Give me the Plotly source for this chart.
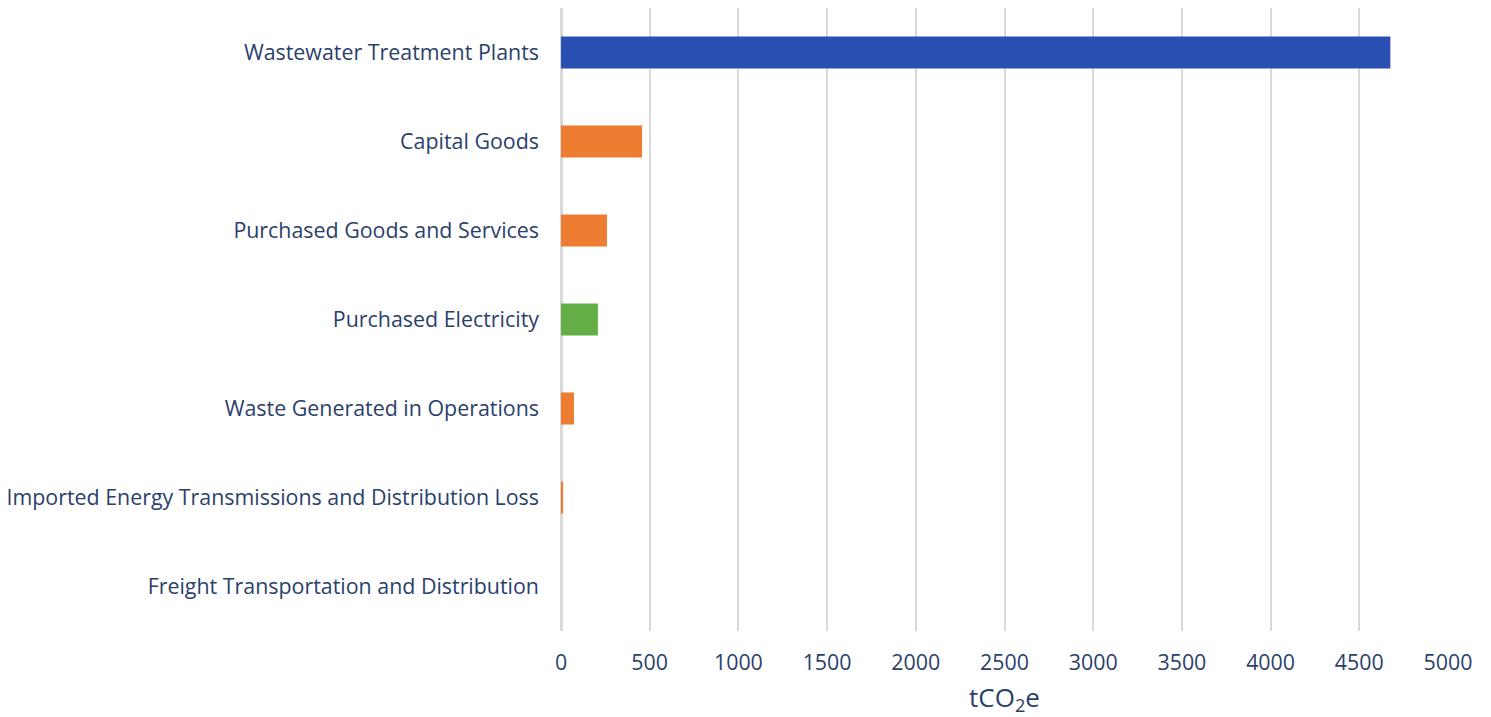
import plotly.graph_objects as go

categories = [
    "Wastewater Treatment Plants",
    "Capital Goods",
    "Purchased Goods and Services",
    "Purchased Electricity",
    "Waste Generated in Operations",
    "Imported Energy Transmissions and Distribution Loss",
    "Freight Transportation and Distribution",
]
values = [4675, 457, 259, 208, 73, 12, 0]
colors = ["#2A4FB3", "#ED7D31", "#ED7D31", "#63AE45", "#ED7D31", "#ED7D31", "#ED7D31"]
tick_vals = [0, 500, 1000, 1500, 2000, 2500, 3000, 3500, 4000, 4500, 5000]

text_color = "#2B3F6B"

fig = go.Figure(
    go.Bar(
        x=values,
        y=categories,
        orientation="h",
        marker=dict(color=colors, line=dict(width=0)),
        width=0.36,
    )
)

fig.update_layout(
    width=1491,
    height=717,
    margin=dict(l=561, r=43, t=8, b=86),
    paper_bgcolor="white",
    plot_bgcolor="white",
    font=dict(family="Open Sans", color=text_color, size=21.4),
    showlegend=False,
    xaxis=dict(
        range=[0, 5000],
        tickvals=tick_vals,
        showgrid=True,
        gridcolor="#D9D9D9",
        gridwidth=2,
        zeroline=True,
        zerolinecolor="#D9D9D9",
        zerolinewidth=3,
        ticks="",
        automargin=False,
        ticklabelstandoff=17,
        tickfont=dict(size=21.4, color=text_color),
        title=dict(text="tCO<sub>2</sub>e", font=dict(size=26, color=text_color), standoff=18),
    ),
    yaxis=dict(
        categoryorder="array",
        categoryarray=categories[::-1],
        showgrid=False,
        zeroline=False,
        ticks="",
        automargin=False,
        ticklabelstandoff=21,
        tickfont=dict(size=21.4, color=text_color),
    ),
)

fig.write_html("out.html")
